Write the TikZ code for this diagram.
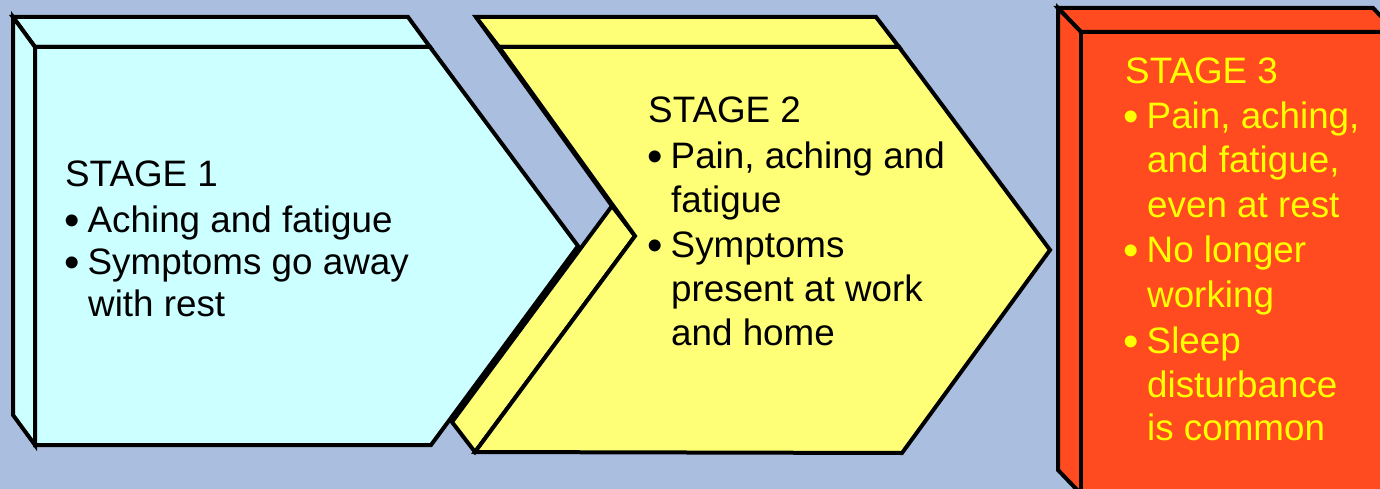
\documentclass[tikz,border=0pt]{standalone}
\usepackage{fontspec}
\setmainfont{Liberation Sans}
\definecolor{bgblue}{RGB}{170,191,223}
\definecolor{cyanface}{RGB}{204,255,255}
\definecolor{yellowface}{RGB}{255,255,119}
\definecolor{redface}{RGB}{255,75,31}
\definecolor{txtyellow}{RGB}{255,255,0}
\newcommand{\bul}{\makebox[23.5pt][l]{\raisebox{-3pt}{\fontsize{44}{44}\selectfont •}}}
\begin{document}
\begin{tikzpicture}[x=1pt,y=-1pt,
  face/.style={draw=black, line width=4pt, line join=miter},
  txt/.style={inner sep=0pt, anchor=base west, font=\fontsize{36.8}{44}\selectfont},
]
\useasboundingbox (0,0) rectangle (1380,489);
\clip (0,0) rectangle (1380,489);
\fill[bgblue] (0,0) rectangle (1380,489);

% ---- Stage 1 (cyan)
\filldraw[face, fill=cyanface] (13,17) -- (408,17) -- (430,47) -- (35,47) -- cycle;
\filldraw[face, fill=cyanface] (13,17) -- (13,415) -- (35,445) -- (35,47) -- cycle;
\filldraw[face, fill=cyanface] (35,47) -- (430,47) -- (578,246) -- (431,445) -- (35,445) -- cycle;

% ---- Stage 2 (yellow)
\filldraw[face, fill=yellowface] (476,17) -- (612,206) -- (635,236) -- (499,47) -- cycle;
\filldraw[face, fill=yellowface] (612,206) -- (452,422) -- (475,452) -- (635,236) -- cycle;
\filldraw[face, fill=yellowface] (476,17) -- (876,17) -- (899,47) -- (499,47) -- cycle;
\filldraw[face, fill=yellowface] (499,47) -- (899,47) -- (1050,250) -- (902,453) -- (475,452) -- (635,236) -- cycle;

% ---- Stage 3 (red)
\filldraw[face, fill=redface] (1058,8) -- (1373,8) -- (1396,32) -- (1081,32) -- cycle;
\filldraw[face, fill=redface] (1058,8) -- (1058,470) -- (1081,494) -- (1081,32) -- cycle;
\filldraw[face, fill=redface] (1081,32) -- (1396,32) -- (1396,520) -- (1081,520) -- cycle;

% ---- texts stage 1
\node[txt] (s1t) at (65,186) {STAGE 1};
\node[txt] (s1a) at (64,232) {\bul Aching and fatigue};
\node[txt] (s1b) at (64,274) {\bul Symptoms go away};
\node[txt] (s1c) at (88,316) {with rest};

% ---- texts stage 2
\node[txt] (s2t) at (648,123) {STAGE 2};
\node[txt] (s2a) at (647,168) {\bul Pain, aching and};
\node[txt] (s2b) at (671,212) {fatigue};
\node[txt] (s2c) at (647,257) {\bul Symptoms};
\node[txt] (s2d) at (671,301) {present at work};
\node[txt] (s2e) at (671,345) {and home};

% ---- texts stage 3
\begin{scope}[every node/.append style={text=txtyellow}]
\node[txt] (s3t) at (1125,84) {STAGE 3};
\node[txt] (s3a) at (1123,129) {\bul Pain, aching,};
\node[txt] (s3b) at (1147,172) {and fatigue,};
\node[txt] (s3c) at (1147,217) {even at rest};
\node[txt] (s3d) at (1123,262) {\bul No longer};
\node[txt] (s3e) at (1147,307) {working};
\node[txt] (s3f) at (1123,353) {\bul Sleep};
\node[txt] (s3g) at (1147,397) {disturbance};
\node[txt] (s3h) at (1147,440) {is common};
\end{scope}
\end{tikzpicture}
\end{document}
